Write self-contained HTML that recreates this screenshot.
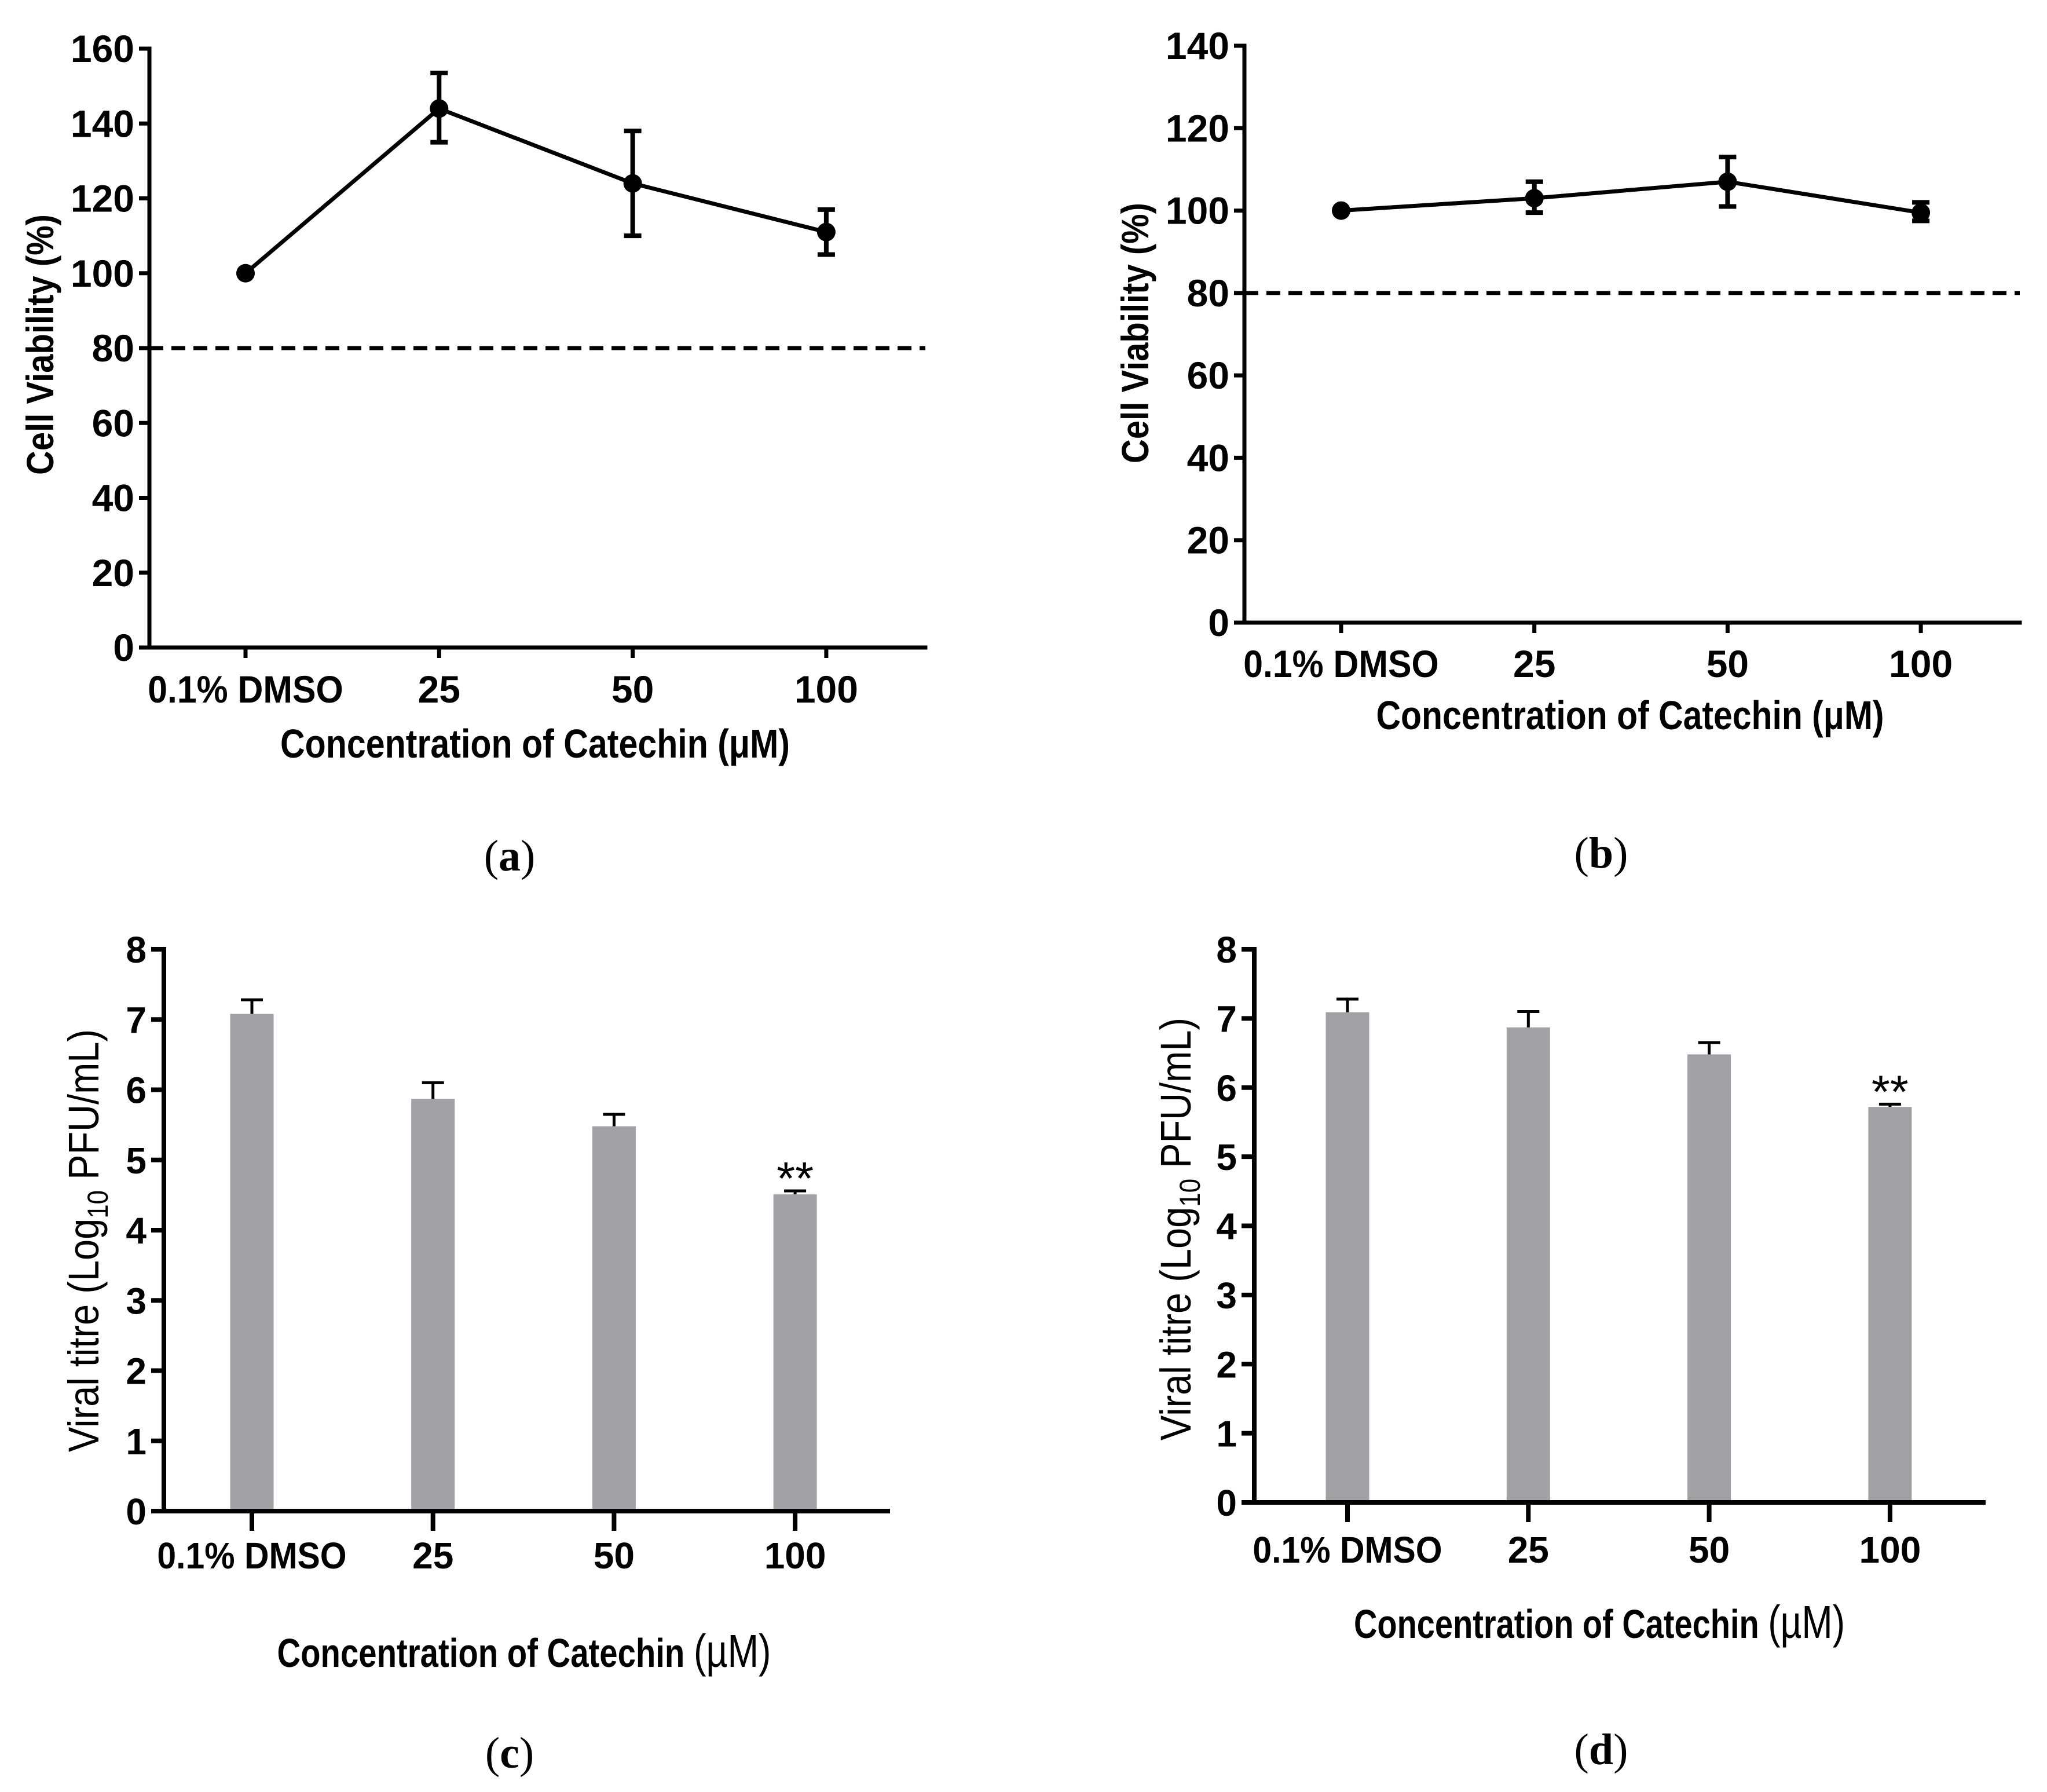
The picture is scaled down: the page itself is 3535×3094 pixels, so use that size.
<!DOCTYPE html>
<html><head><meta charset="utf-8"><style>
html,body{margin:0;padding:0;background:#fff;}
svg{display:block;}
.b{font-family:"Liberation Sans",Arial,sans-serif;font-weight:bold;}
.r{font-family:"Liberation Sans",Arial,sans-serif;}
.s{font-family:"Liberation Serif","DejaVu Serif",serif;}
</style></head><body>
<svg id="fig" width="3535" height="3094" viewBox="0 0 3535 3094" xmlns="http://www.w3.org/2000/svg"></svg>
<script>
const categories = ["0.1% DMSO","25","50","100"];
const aValues = [100,144,124,111];
const aErrHi = [100,153.5,138,117];
const aErrLo = [100,135,110,105];
const aTicks = [0,20,40,60,80,100,120,140,160];
const bValues = [100,103,107,99.5];
const bErrHi = [100,107,113,102];
const bErrLo = [100,99.5,101,97.5];
const bTicks = [0,20,40,60,80,100,120,140];
const cValues = [7.08,5.87,5.48,4.51];
const cErrHi = [7.28,6.1,5.65,4.56];
const dValues = [7.09,6.87,6.48,5.72];
const dErrHi = [7.28,7.1,6.65,5.76];
const barTicks = [0,1,2,3,4,5,6,7,8];
const threshold = 80;
const sigLabels = ["","","","**"];

const NS="http://www.w3.org/2000/svg";
const svg=document.getElementById('fig');
function mk(tag,attrs,parent,text){const e=document.createElementNS(NS,tag);for(const k in attrs)e.setAttribute(k,attrs[k]);if(text!==undefined)e.textContent=text;(parent||svg).appendChild(e);return e;}
function fit(el,w){el.setAttribute('textLength',w);el.setAttribute('lengthAdjust','spacingAndGlyphs');}
function squeeze(el,f){const w=el.getComputedTextLength();if(w>0)fit(el,w*f);}

function panel(cfg){
  const g=mk('g',{});
  
  
  const y=v=>cfg.y0-(v-cfg.ymin)/(cfg.ymax-cfg.ymin)*(cfg.y0-cfg.ytop);
  const x=i=>cfg.cx0+i*cfg.dx;
  if(cfg.type==='bar'){
    cfg.values.forEach((v,i)=>{
      const r=mk('rect',{x:x(i)-cfg.bw/2,y:y(v),width:cfg.bw,height:cfg.y0-y(v),fill:'#a2a1a6'},g);
      
      
      const e=mk('path',{d:`M${x(i)} ${y(v)} V${y(cfg.errHi[i])} M${x(i)-19} ${y(cfg.errHi[i])} H${x(i)+19}`,stroke:'#000','stroke-width':5,fill:'none'},g);
      
      
      if(sigLabels[i]){
        const t=mk('text',{x:x(i),y:y(cfg.errHi[i])+6,'text-anchor':'middle','font-size':80,class:'r'},g,sigLabels[i]);
        
        
        fit(t,64);
      }
    });
  }
  const ax=mk('path',{d:`M${cfg.ax} ${cfg.ytop} V${cfg.y0} H${cfg.axR}`,stroke:'#000','stroke-width':cfg.aw,fill:'none','stroke-linecap':'square'},g);
  
  
  cfg.ticks.forEach(t=>{
    const tk=mk('line',{x1:cfg.ax-cfg.tl,x2:cfg.ax,y1:y(t),y2:y(t),stroke:'#000','stroke-width':cfg.aw},g);
    
    
    const lb=mk('text',{x:cfg.ax-cfg.tl-8,y:y(t)+23,'text-anchor':'end','font-size':cfg.tfs,class:'b'},g,String(t));
    
    
  });
  categories.forEach((c,i)=>{
    const tk=mk('line',{x1:x(i),x2:x(i),y1:cfg.y0,y2:cfg.y0+cfg.xtl,stroke:'#000','stroke-width':cfg.aw},g);
    
    
    const lb=mk('text',{x:x(i),y:cfg.xly,'text-anchor':'middle','font-size':cfg.tfs,class:'b'},g,c);
    
    
    if(c.length>4)squeeze(lb,0.92);
  });
  if(cfg.type==='line'){
    const dl=mk('line',{x1:cfg.ax,x2:cfg.axR,y1:y(threshold),y2:y(threshold),stroke:'#000','stroke-width':7,'stroke-dasharray':'24 14'},g);
    
    
    const pts=cfg.values.map((v,i)=>x(i)+','+y(v)).join(' ');
    const pl=mk('polyline',{points:pts,stroke:'#000','stroke-width':7,fill:'none'},g);
    
    
    cfg.values.forEach((v,i)=>{
      if(cfg.errHi[i]!==cfg.errLo[i]){
        const e=mk('path',{d:`M${x(i)} ${y(cfg.errLo[i])} V${y(cfg.errHi[i])} M${x(i)-15} ${y(cfg.errHi[i])} H${x(i)+15} M${x(i)-15} ${y(cfg.errLo[i])} H${x(i)+15}`,stroke:'#000','stroke-width':8,fill:'none'},g);
        
        
      }
      const m=mk('circle',{cx:x(i),cy:y(v),r:16,fill:'#000'},g);
      
      
    });
  }
  const xt=mk('text',{x:cfg.xtx,y:cfg.xty,'text-anchor':'middle','font-size':70,class:'b'},g);
  
  
  if(cfg.type==='line'){ xt.textContent='Concentration of Catechin (\u03BCM)'; }
  else { mk('tspan',{},xt,'Concentration of Catechin '); mk('tspan',{class:'r','font-weight':'normal','font-size':80},xt,'(\u00B5M)'); }
  fit(xt,cfg.xtw);
  const yt=mk('text',{x:0,y:0,'text-anchor':'middle',transform:`translate(${cfg.ytx},${cfg.yty}) rotate(-90)`,'font-size':cfg.type==='line'?66:74,class:cfg.type==='line'?'b':'r'},g);
  
  
  if(cfg.type==='line'){ yt.textContent='Cell Viability (%)'; }
  else { mk('tspan',{},yt,'Viral titre (Log'); mk('tspan',{'font-size':50,dy:16},yt,'10'); mk('tspan',{dy:-16},yt,' PFU/mL)'); }
  fit(yt,cfg.ytw);
  const pl=mk('text',{x:cfg.plx,y:cfg.ply+26,'text-anchor':'middle','font-size':76,class:'s'},g);
  
  
  mk('tspan',{},pl,'(');mk('tspan',{'font-weight':'bold'},pl,cfg.label);mk('tspan',{},pl,')');
}

panel({name:'panel-a',type:'line',values:aValues,errHi:aErrHi,errLo:aErrLo,ticks:aTicks,ymin:0,ymax:160,y0:1118,ytop:84,ax:258,axR:1598,cx0:424,dx:334.3,aw:7,tl:18,xtl:18,tfs:66,xly:1213,xtx:924,xty:1308,xtw:880,ytx:92,yty:595,ytw:450,plx:880,ply:1477,label:'a'});
panel({name:'panel-b',type:'line',values:bValues,errHi:bErrHi,errLo:bErrLo,ticks:bTicks,ymin:0,ymax:140,y0:1075,ytop:79,ax:2149,axR:3488,cx0:2316,dx:333.7,aw:7,tl:18,xtl:18,tfs:66,xly:1169,xtx:2815,xty:1259,xtw:877,ytx:1983,yty:575,ytw:450,plx:2765,ply:1472,label:'b'});
panel({name:'panel-c',type:'bar',values:cValues,errHi:cErrHi,ticks:barTicks,ymin:0,ymax:8,y0:2609,ytop:1639,ax:283,axR:1533,cx0:435,dx:312.7,bw:75,aw:8,tl:22,xtl:34,tfs:64,xly:2708,xtx:905,xty:2878,xtw:853,ytx:170,yty:2142,ytw:730,plx:880,ply:3026,label:'c'});
panel({name:'panel-d',type:'bar',values:dValues,errHi:dErrHi,ticks:barTicks,ymin:0,ymax:8,y0:2594,ytop:1639,ax:2166,axR:3425,cx0:2327,dx:312.3,bw:75,aw:8,tl:22,xtl:34,tfs:64,xly:2698,xtx:2762,xty:2828,xtw:848,ytx:2056,yty:2122,ytw:730,plx:2765,ply:3020,label:'d'});
</script>
</body></html>
